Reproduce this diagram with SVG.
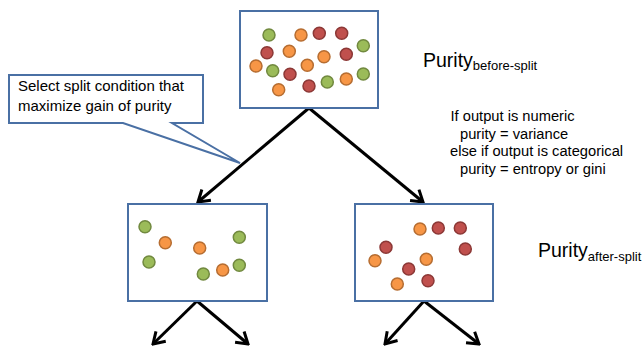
<svg xmlns="http://www.w3.org/2000/svg" width="643" height="347" viewBox="0 0 643 347">
<style>
.box{fill:#ffffff;stroke:#4A70A4;stroke-width:2}
.g{fill:#9BBB59;stroke:#71893F;stroke-width:1.5}
.o{fill:#F79646;stroke:#B66D31;stroke-width:1.5}
.r{fill:#C0504D;stroke:#8C3836;stroke-width:1.5}
.arrow{stroke:#000;stroke-width:3;fill:none;marker-end:url(#ah)}
.t{font-family:"Liberation Sans",Arial,sans-serif;fill:#000}
</style>
<defs>
<marker id="ah" markerUnits="userSpaceOnUse" viewBox="-14 -9 16 18" refX="0" refY="0" markerWidth="16" markerHeight="18" orient="auto">
<path d="M-11,-7 L0,0 L-11,7" fill="none" stroke="#000" stroke-width="3"/>
</marker>
</defs>
<rect width="643" height="347" fill="#ffffff"/>
<g id="connectors">
<line class="arrow" x1="309" y1="108" x2="198" y2="202"/>
<line class="arrow" x1="309" y1="108" x2="423" y2="202"/>
<line class="arrow" x1="197" y1="301" x2="153" y2="344"/>
<line class="arrow" x1="197" y1="301" x2="248" y2="344"/>
<line class="arrow" x1="424" y1="301" x2="385" y2="344"/>
<line class="arrow" x1="424" y1="301" x2="479" y2="344"/>
</g>
<g id="node-root">
<rect class="box" x="240" y="11" width="138" height="97"/>
<circle class="g" cx="269" cy="35" r="6"/>
<circle class="o" cx="301" cy="35" r="6"/>
<circle class="r" cx="319.3" cy="33.3" r="6"/>
<circle class="r" cx="341.7" cy="33.3" r="6"/>
<circle class="g" cx="363.3" cy="45.7" r="6"/>
<circle class="r" cx="267" cy="52.7" r="6"/>
<circle class="o" cx="289.3" cy="51.3" r="6"/>
<circle class="o" cx="324" cy="56.7" r="6"/>
<circle class="r" cx="346.3" cy="54.3" r="6"/>
<circle class="o" cx="256" cy="66" r="6"/>
<circle class="g" cx="272.7" cy="70.7" r="6"/>
<circle class="r" cx="290" cy="74.3" r="6"/>
<circle class="o" cx="307.3" cy="65.3" r="6"/>
<circle class="g" cx="363.3" cy="74" r="6"/>
<circle class="r" cx="309" cy="86" r="6"/>
<circle class="g" cx="327.3" cy="82" r="6"/>
<circle class="o" cx="346.3" cy="79" r="6"/>
<circle class="o" cx="278.7" cy="89.7" r="6"/>
</g>
<g id="node-left">
<rect class="box" x="128" y="204" width="139" height="97"/>
<circle class="g" cx="145" cy="226.7" r="6"/>
<circle class="o" cx="165.3" cy="242.7" r="6"/>
<circle class="o" cx="199.7" cy="248" r="6"/>
<circle class="g" cx="239.3" cy="237.3" r="6"/>
<circle class="g" cx="149" cy="262" r="6"/>
<circle class="g" cx="203.3" cy="274" r="6"/>
<circle class="o" cx="222.7" cy="270" r="6"/>
<circle class="g" cx="239.3" cy="265.3" r="6"/>
</g>
<g id="node-right">
<rect class="box" x="355" y="204" width="138" height="97"/>
<circle class="o" cx="420" cy="229" r="6"/>
<circle class="r" cx="438.3" cy="228" r="6"/>
<circle class="r" cx="460.3" cy="228" r="6"/>
<circle class="r" cx="386" cy="247.3" r="6"/>
<circle class="r" cx="465.3" cy="249" r="6"/>
<circle class="o" cx="375" cy="260.7" r="6"/>
<circle class="o" cx="426.3" cy="259.3" r="6"/>
<circle class="r" cx="408.7" cy="269" r="6"/>
<circle class="o" cx="397.3" cy="284" r="6"/>
<circle class="r" cx="428" cy="280.7" r="6"/>
</g>
<g id="callout">
<path d="M9,75 H203 V123 H172 L240,163 L123,123 H9 Z" fill="#ffffff" stroke="#4A70A4" stroke-width="2" stroke-linejoin="miter"/>
<text class="t" x="18" y="90.5" font-size="15">Select split condition that</text>
<text class="t" x="18" y="110.5" font-size="15">maximize gain of purity</text>
</g>
<g id="labels">
<text class="t" x="423" y="66.5" font-size="19.5">Purity<tspan font-size="13" dy="3.5">before-split</tspan></text>
<text class="t" x="450.5" y="121" font-size="14.7">If output is numeric</text>
<text class="t" x="460" y="138.5" font-size="14.7">purity = variance</text>
<text class="t" x="450" y="156" font-size="14.7">else if output is categorical</text>
<text class="t" x="460" y="174" font-size="14.7">purity = entropy or gini</text>
<text class="t" x="538" y="256.5" font-size="19.5">Purity<tspan font-size="13" dy="4">after-split</tspan></text>
</g>
</svg>
